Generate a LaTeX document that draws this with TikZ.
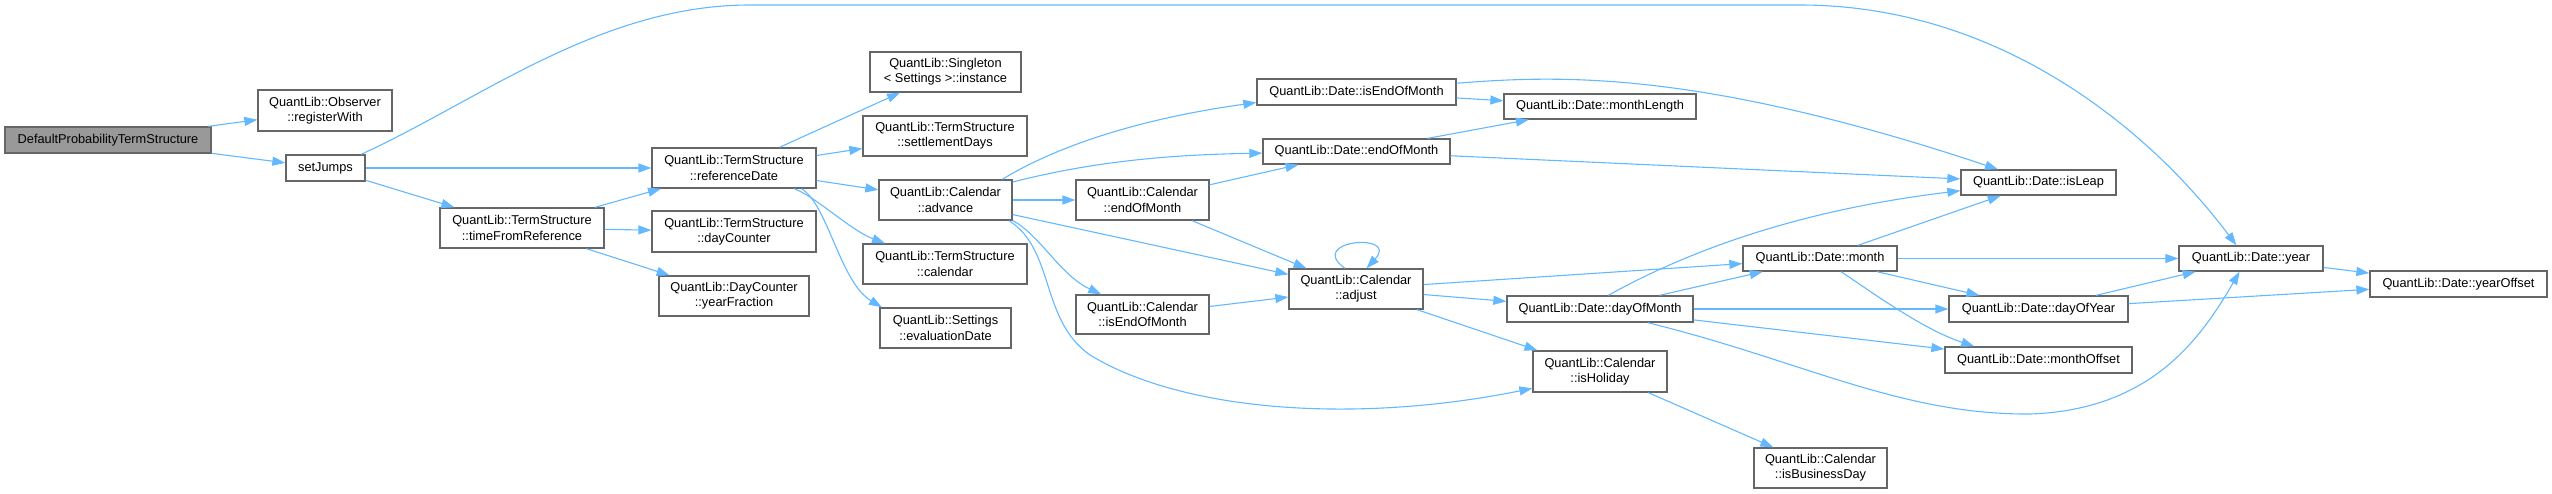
\documentclass[tikz,border=0pt]{standalone}
\usepackage{fontspec}
\setmainfont{Liberation Sans}
\usetikzlibrary{arrows.meta}
\definecolor{edgeblue}{HTML}{63B8FF}
\definecolor{boxgray}{HTML}{666666}
\definecolor{rootfill}{HTML}{999999}
\begin{document}
\begin{tikzpicture}[x=1pt,y=-1pt,
  fn/.style={draw=boxgray, line width=1.3pt, fill=white, inner sep=0pt, align=center,
             font=\fontsize{12.8}{15.3}\selectfont},
  rootfn/.style={fn, fill=rootfill},
  edge/.style={draw=edgeblue, line width=1.1pt, -{Triangle[length=13pt,width=9pt]}}]
\useasboundingbox (0,0) rectangle (2552,493);

% nodes
\node[rootfn, minimum width=206pt, minimum height=26pt] (root) at (108,140) {DefaultProbabilityTermStructure};
\node[fn, minimum width=134pt, minimum height=41pt] (reg) at (325,110.5) {QuantLib::Observer\\::registerWith};
\node[fn, minimum width=79pt, minimum height=26pt] (setj) at (325.5,168) {setJumps};
\node[fn, minimum width=164pt, minimum height=40pt] (tfr) at (522,228) {QuantLib::TermStructure\\::timeFromReference};
\node[fn, minimum width=164pt, minimum height=40pt] (refd) at (734,168) {QuantLib::TermStructure\\::referenceDate};
\node[fn, minimum width=164pt, minimum height=41pt] (dayc) at (734,231.5) {QuantLib::TermStructure\\::dayCounter};
\node[fn, minimum width=150pt, minimum height=40pt] (yf) at (734,296) {QuantLib::DayCounter\\::yearFraction};
\node[fn, minimum width=151pt, minimum height=40pt] (inst) at (945.5,72) {QuantLib::Singleton\\< Settings >::instance};
\node[fn, minimum width=164pt, minimum height=40pt] (settl) at (945,136) {QuantLib::TermStructure\\::settlementDays};
\node[fn, minimum width=133pt, minimum height=40pt] (adv) at (945.5,200) {QuantLib::Calendar\\::advance};
\node[fn, minimum width=164pt, minimum height=40pt] (tscal) at (945,264) {QuantLib::TermStructure\\::calendar};
\node[fn, minimum width=131pt, minimum height=40pt] (evald) at (945.5,328) {QuantLib::Settings\\::evaluationDate};
\node[fn, minimum width=133pt, minimum height=40pt] (calEom) at (1142.5,200) {QuantLib::Calendar\\::endOfMonth};
\node[fn, minimum width=133pt, minimum height=39pt] (calIsEom) at (1142.5,314.5) {QuantLib::Calendar\\::isEndOfMonth};
\node[fn, minimum width=199pt, minimum height=26pt] (dIsEom) at (1356.5,92) {QuantLib::Date::isEndOfMonth};
\node[fn, minimum width=187pt, minimum height=25pt] (dEom) at (1356.5,151.5) {QuantLib::Date::endOfMonth};
\node[fn, minimum width=134pt, minimum height=40pt] (adj) at (1356,289) {QuantLib::Calendar\\::adjust};
\node[fn, minimum width=192pt, minimum height=25pt] (mlen) at (1600,106.5) {QuantLib::Date::monthLength};
\node[fn, minimum width=154pt, minimum height=25pt] (month) at (1820,258.5) {QuantLib::Date::month};
\node[fn, minimum width=186pt, minimum height=26pt] (dom) at (1600,309) {QuantLib::Date::dayOfMonth};
\node[fn, minimum width=134pt, minimum height=41pt] (hol) at (1600,371.5) {QuantLib::Calendar\\::isHoliday};
\node[fn, minimum width=133pt, minimum height=40pt] (busd) at (1820.5,468) {QuantLib::Calendar\\::isBusinessDay};
\node[fn, minimum width=155pt, minimum height=25pt] (leap) at (2038.5,182.5) {QuantLib::Date::isLeap};
\node[fn, minimum width=179pt, minimum height=26pt] (doy) at (2038.5,309) {QuantLib::Date::dayOfYear};
\node[fn, minimum width=187pt, minimum height=26pt] (moff) at (2038.5,360) {QuantLib::Date::monthOffset};
\node[fn, minimum width=144pt, minimum height=25pt] (year) at (2251,258.5) {QuantLib::Date::year};
\node[fn, minimum width=177pt, minimum height=26pt] (yoff) at (2458.5,284) {QuantLib::Date::yearOffset};

% straight edges
\draw[edge] (root) -- (reg);
\draw[edge] (root) -- (setj);
\draw[edge] (setj) -- (refd);
\draw[edge] (setj) -- (tfr);
\draw[edge] (tfr) -- (refd);
\draw[edge] (tfr) -- (dayc);
\draw[edge] (tfr) -- (yf);
\draw[edge] (refd) -- (inst);
\draw[edge] (refd) -- (settl);
\draw[edge] (refd) -- (adv);
\draw[edge] (adv) -- (calEom);
\draw[edge] (adv) -- (adj);
\draw[edge] (calEom) -- (dEom);
\draw[edge] (calEom) -- (adj);
\draw[edge] (calIsEom) -- (adj);
\draw[edge] (adj) -- (month);
\draw[edge] (adj) -- (dom);
\draw[edge] (adj) -- (hol);
\draw[edge] (dIsEom) -- (mlen);
\draw[edge] (dEom) -- (mlen);
\draw[edge] (dEom) -- (leap);
\draw[edge] (dom) -- (month);
\draw[edge] (dom) -- (doy);
\draw[edge] (dom) -- (moff);
\draw[edge] (month) -- (leap);
\draw[edge] (month) -- (year);
\draw[edge] (month) -- (doy);
\draw[edge] (doy) -- (year);
\draw[edge] (doy) -- (yoff);
\draw[edge] (year) -- (yoff);
\draw[edge] (hol) -- (busd);

% curved edges
\draw[edge] (setj.21) .. controls (480,100) and (600,5) .. (750,5) -- (1800,5)
  .. controls (2000,5) and (2150,130) .. (year.138);
\draw[edge] (refd.-19) .. controls (815,196) and (850,230) .. (tscal.161);
\draw[edge] (refd.-17) .. controls (828,205) and (840,282) .. (evald.162);
\draw[edge] (adv.20) .. controls (1050,150) and (1130,120) .. (dIsEom.186);
\draw[edge] (adv.15) .. controls (1080,165) and (1150,155) .. (dEom.181);
\draw[edge] (adv.-17) .. controls (1040,235) and (1060,275) .. (calIsEom.154);
\draw[edge] (adv.-18) .. controls (1055,250) and (1040,320) .. (1090,355)
  .. controls (1180,410) and (1350,425) .. (hol.194);
\draw[edge] (dIsEom.5) .. controls (1560,75) and (1700,70) .. (leap.162);
\draw[edge] (dom.59) .. controls (1690,250) and (1800,210) .. (leap.186);
\draw[edge] (dom.-16) .. controls (1800,360) and (1900,415) .. (2030,414)
  .. controls (2150,410) and (2200,340) .. (year.229);
\draw[edge] (month.-32) .. controls (1880,298) and (1925,330) .. (moff.168);
\draw[edge] (adj.118) .. controls (1305,240) and (1400,232) .. (adj.63);
\end{tikzpicture}
\end{document}
